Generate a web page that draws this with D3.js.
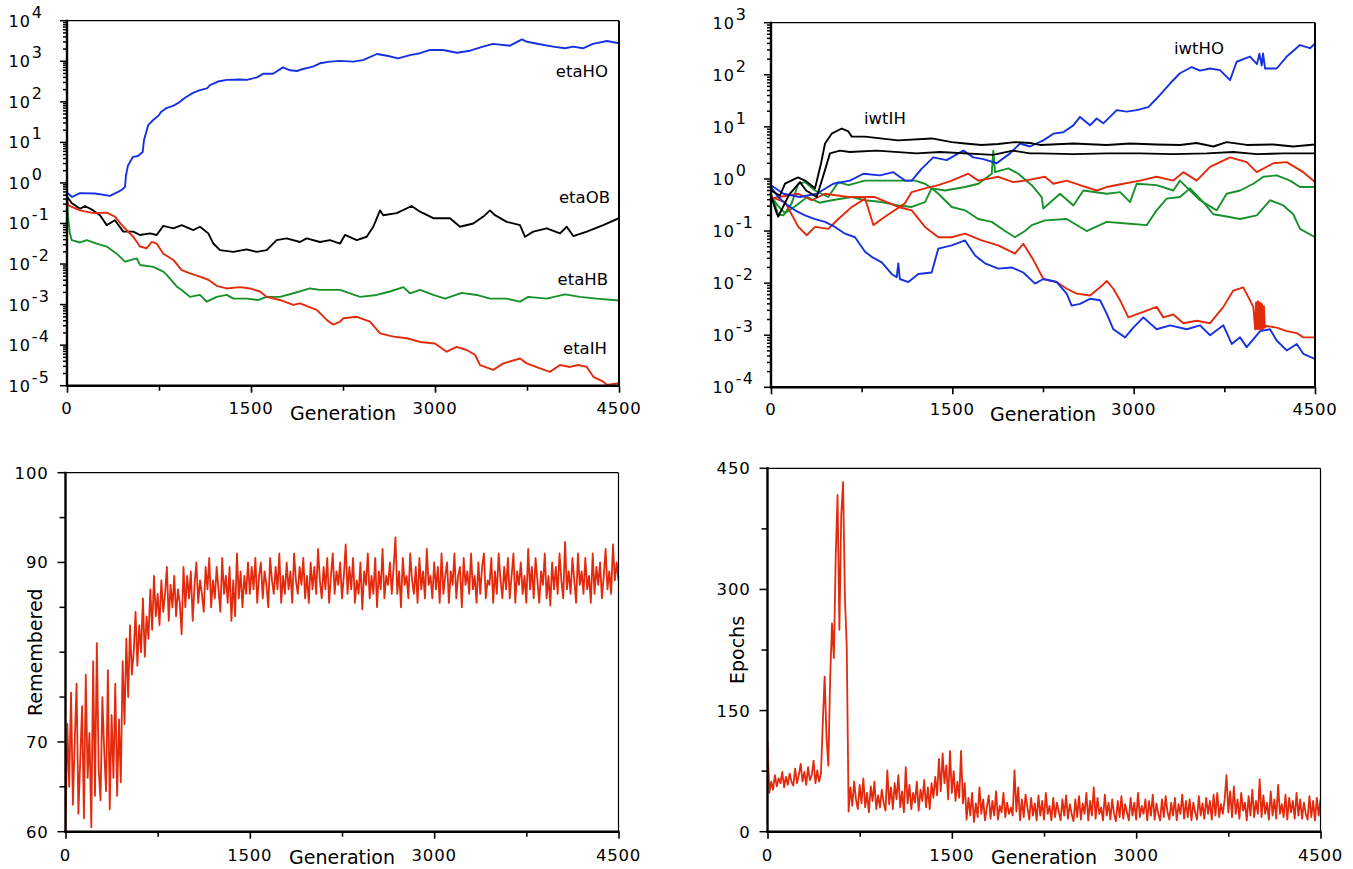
<!DOCTYPE html>
<html>
<head>
<meta charset="utf-8">
<script src="https://cdn.jsdelivr.net/npm/d3@7"></script>
<style>
body { margin: 0; background: #fff; }
svg { display: block; font-family: "DejaVu Sans", Verdana, sans-serif; }
</style>
</head>
<body>
<svg id="chart" width="1353" height="869"></svg>
<script>
// ---- data: [generation, value] ----
var etaHO = [[0,0.58],[41,0.45],[106,0.56],[228,0.55],[350,0.48],[416,0.6],[448,0.68],[473,0.8],[481,1.55],[497,2.7],[538,4.4],[579,4.6],[617,5.8],[628,11.5],[644,17],[663,27],[701,35],[750,47],[766,56],[815,71],[864,79],[921,100],[962,126],[1027,166],[1084,195],[1141,215],[1166,257],[1231,316],[1304,347],[1410,355],[1467,347],[1549,400],[1598,490],[1679,490],[1761,708],[1818,600],[1875,575],[1924,645],[2005,740],[2062,890],[2144,980],[2226,1020],[2331,980],[2413,1070],[2527,1510],[2609,1370],[2699,1180],[2796,1420],[2878,1580],[2960,1900],[3065,1900],[3179,1620],[3285,1820],[3391,2290],[3473,2690],[3611,2420],[3709,3470],[3750,3020],[3856,2630],[3962,2290],[4060,2090],[4125,2290],[4206,2090],[4288,2690],[4402,3160],[4500,2780]];
var etaOB = [[0,0.46],[38,0.32],[106,0.23],[147,0.27],[214,0.21],[269,0.16],[324,0.091],[391,0.12],[459,0.063],[540,0.063],[595,0.052],[677,0.057],[731,0.052],[785,0.087],[867,0.076],[935,0.091],[1030,0.069],[1084,0.083],[1152,0.057],[1193,0.032],[1247,0.022],[1356,0.02],[1465,0.023],[1546,0.02],[1628,0.022],[1709,0.039],[1791,0.043],[1899,0.035],[1954,0.043],[2062,0.035],[2144,0.039],[2226,0.032],[2266,0.052],[2362,0.039],[2443,0.047],[2497,0.083],[2552,0.21],[2578,0.16],[2688,0.18],[2810,0.27],[2878,0.195],[2986,0.135],[3122,0.135],[3204,0.083],[3312,0.1],[3394,0.148],[3448,0.21],[3489,0.16],[3585,0.11],[3693,0.091],[3734,0.047],[3801,0.063],[3911,0.076],[4019,0.057],[4074,0.083],[4127,0.049],[4237,0.063],[4372,0.091],[4500,0.135]];
var etaHB = [[0,0.35],[11,0.12],[24,0.057],[38,0.039],[106,0.034],[161,0.039],[242,0.032],[324,0.027],[405,0.018],[473,0.0115],[568,0.0138],[595,0.0095],[704,0.0085],[785,0.0065],[813,0.0054],[894,0.0028],[935,0.0023],[1003,0.00155],[1084,0.00173],[1139,0.00118],[1220,0.00155],[1302,0.00173],[1356,0.0014],[1465,0.0014],[1560,0.0013],[1628,0.00155],[1736,0.00155],[1845,0.0019],[1981,0.0025],[2062,0.0023],[2226,0.0023],[2307,0.0019],[2389,0.00155],[2525,0.00173],[2633,0.0021],[2742,0.0027],[2796,0.0019],[2878,0.0023],[2986,0.00173],[3082,0.0014],[3218,0.00195],[3340,0.00173],[3448,0.0014],[3585,0.0014],[3693,0.00118],[3761,0.00155],[3911,0.0014],[4060,0.00178],[4182,0.00155],[4318,0.0014],[4500,0.00126]];
var etaIH = [[0,0.38],[11,0.28],[106,0.21],[214,0.18],[324,0.185],[391,0.148],[459,0.083],[540,0.047],[595,0.027],[650,0.0245],[690,0.035],[731,0.032],[785,0.018],[867,0.0126],[935,0.0071],[1003,0.0059],[1084,0.0049],[1152,0.0041],[1220,0.0029],[1302,0.0025],[1410,0.0027],[1492,0.0025],[1573,0.0021],[1628,0.00155],[1736,0.0013],[1845,0.00098],[1899,0.00107],[2036,0.00074],[2117,0.00042],[2171,0.00032],[2226,0.00038],[2253,0.00046],[2362,0.0005],[2470,0.00038],[2552,0.000195],[2660,0.000162],[2769,0.000148],[2878,0.00012],[3000,0.00011],[3095,0.000069],[3177,0.000091],[3258,0.000076],[3326,0.000058],[3367,0.000032],[3475,0.0000245],[3557,0.0000355],[3693,0.0000468],[3748,0.0000355],[3856,0.0000269],[3937,0.0000219],[4019,0.0000324],[4100,0.000029],[4168,0.0000324],[4237,0.000029],[4291,0.0000166],[4372,0.0000126],[4400,0.0000105],[4500,0.0000115]];

var iwtIHa = [[0,0.6],[74,0.48],[116,0.81],[223,1.07],[281,0.93],[364,0.66],[414,2.0],[447,4.8],[502,7.4],[585,9.3],[637,8.3],[668,6.5],[778,6.5],[1050,5.5],[1329,6.0],[1495,5.1],[1605,4.8],[1743,4.5],[1878,4.7],[2018,5.1],[2142,4.9],[2225,4.5],[2501,4.8],[2777,4.5],[2970,4.8],[3190,4.6],[3383,4.5],[3521,4.9],[3659,4.2],[3769,5.1],[3935,4.5],[4155,4.6],[4320,4.2],[4500,4.6]];
var iwtIHb = [[0,0.48],[47,0.22],[60,0.19],[150,0.5],[240,0.87],[290,0.6],[378,0.45],[430,1.1],[488,3.1],[571,3.5],[653,3.3],[874,3.5],[1205,3.1],[1398,3.3],[1836,2.9],[2002,3.5],[2142,3.1],[2225,3.1],[2501,3.0],[2777,3.1],[3052,3.1],[3328,3.0],[3604,3.1],[3824,3.3],[4018,3.0],[4238,3.1],[4500,3.1]];
var iwtHOa = [[0,0.76],[102,0.52],[240,0.45],[378,0.52],[515,0.81],[653,0.93],[764,1.26],[902,1.17],[1012,1.35],[1108,0.93],[1164,0.93],[1247,1.58],[1343,2.6],[1453,2.3],[1591,3.5],[1674,2.6],[1756,2.4],[1867,2.0],[1977,3.1],[2060,4.8],[2142,4.2],[2253,5.5],[2336,7.4],[2418,7.9],[2501,10.7],[2556,15.5],[2639,10.7],[2694,14.5],[2749,11.7],[2860,21],[2942,19.6],[3025,21],[3121,24],[3190,35],[3301,68],[3383,107],[3480,141],[3549,120],[3632,132],[3714,123],[3797,79],[3852,178],[3962,224],[4020,160],[4040,255],[4059,150],[4070,257],[4087,132],[4183,132],[4266,224],[4376,372],[4459,324],[4500,398]];
var iwtHOb = [[0,0.7],[60,0.45],[116,0.34],[199,0.25],[281,0.2],[364,0.17],[447,0.15],[529,0.12],[612,0.089],[695,0.076],[778,0.04],[833,0.032],[916,0.025],[998,0.015],[1040,0.013],[1053,0.024],[1066,0.012],[1136,0.0105],[1219,0.015],[1329,0.016],[1384,0.046],[1495,0.053],[1605,0.066],[1688,0.034],[1770,0.024],[1880,0.019],[1991,0.02],[2087,0.016],[2184,0.0098],[2253,0.012],[2363,0.0105],[2446,0.0063],[2487,0.0037],[2556,0.004],[2639,0.005],[2722,0.0047],[2777,0.0026],[2832,0.0013],[2929,0.00091],[2997,0.0014],[3080,0.0022],[3190,0.0013],[3301,0.00155],[3439,0.0013],[3549,0.00155],[3632,0.001],[3742,0.00155],[3811,0.00068],[3880,0.00091],[3935,0.00059],[4046,0.0012],[4128,0.0013],[4183,0.00079],[4266,0.00051],[4349,0.00068],[4403,0.00044],[4500,0.00035]];
var iwtRedA = [[0,0.45],[116,0.36],[226,0.12],[295,0.083],[364,0.12],[474,0.11],[557,0.17],[668,0.29],[778,0.42],[819,0.21],[847,0.13],[916,0.17],[998,0.23],[1108,0.34],[1164,0.56],[1274,0.66],[1384,0.76],[1495,0.93],[1632,1.26],[1715,0.93],[1880,1.1],[2004,0.87],[2101,0.93],[2267,1.1],[2335,0.81],[2446,0.93],[2556,0.76],[2694,0.6],[2777,0.7],[2914,0.81],[3052,0.93],[3190,1.1],[3328,0.93],[3411,1.35],[3521,0.93],[3632,1.7],[3797,2.6],[3935,2.1],[4018,1.35],[4155,2.0],[4266,2.1],[4403,1.35],[4500,0.87]];
var iwtRedB = [[0,0.42],[116,0.47],[226,0.52],[337,0.39],[447,0.52],[640,0.45],[860,0.45],[1053,0.29],[1164,0.25],[1274,0.12],[1384,0.076],[1495,0.076],[1605,0.089],[1743,0.066],[1880,0.053],[2018,0.037],[2087,0.057],[2170,0.028],[2253,0.012],[2363,0.0105],[2446,0.0078],[2529,0.0063],[2639,0.0058],[2722,0.0083],[2777,0.011],[2832,0.0078],[2887,0.0047],[2956,0.0022],[3080,0.0028],[3190,0.0035],[3245,0.0022],[3328,0.0025],[3411,0.0017],[3521,0.0019],[3632,0.0017],[3742,0.0035],[3824,0.0072],[3907,0.0083],[3990,0.0035],[4005,0.0013],[4013,0.0043],[4021,0.0013],[4029,0.0045],[4037,0.0013],[4045,0.0042],[4053,0.0013],[4061,0.0040],[4069,0.0013],[4077,0.0036],[4085,0.0014],[4100,0.0015],[4183,0.0014],[4266,0.0012],[4349,0.0011],[4403,0.00091],[4500,0.00091]];
var iwtGreenA = [[0,0.52],[60,0.21],[102,0.2],[171,0.34],[226,0.81],[281,0.87],[364,0.6],[474,0.45],[557,0.87],[640,0.76],[778,0.93],[998,0.93],[1191,0.93],[1274,0.81],[1329,0.66],[1384,0.52],[1495,0.29],[1605,0.25],[1715,0.17],[1826,0.15],[1936,0.1],[2018,0.076],[2101,0.1],[2157,0.13],[2267,0.16],[2446,0.17],[2611,0.1],[2777,0.15],[2942,0.14],[3108,0.13],[3190,0.25],[3273,0.42],[3383,0.45],[3466,0.66],[3576,0.36],[3659,0.21],[3769,0.19],[3880,0.17],[4018,0.2],[4128,0.39],[4238,0.31],[4320,0.21],[4376,0.11],[4500,0.076]];
var iwtGreenB = [[0,0.47],[60,0.3],[116,0.22],[200,0.3],[300,0.45],[400,0.35],[502,0.39],[668,0.45],[778,0.39],[916,0.36],[1053,0.31],[1164,0.29],[1274,0.36],[1329,0.66],[1439,0.6],[1605,0.7],[1715,0.81],[1826,1.26],[1839,3.5],[1853,1.35],[1963,1.6],[2046,1.26],[2157,0.76],[2239,0.45],[2253,0.27],[2391,0.52],[2501,0.31],[2584,0.6],[2777,0.52],[2887,0.56],[2970,0.36],[3025,0.81],[3190,0.76],[3328,0.6],[3383,0.93],[3466,0.6],[3549,0.39],[3687,0.25],[3769,0.52],[3880,0.6],[3990,0.81],[4073,1.1],[4183,1.17],[4294,0.93],[4376,0.7],[4500,0.7]];

// bottom panels: one value every 15 generations, 0..4500
var sampleStep = 15;
var remembered = [
  // 0 - 450
  60,72,65,75.5,63,70,76.5,62,68,74,61.5,77.5,66,71,60.5,79,64,81,67,63.5,75,69,64.5,78,62.5,73,66,76.5,64,72.5,65.5,
  // 465 - 960
  79,72,81.5,75,83,77.5,80,84.5,78.5,83,80,86,79.5,84,81.5,87,82.5,88.5,84,86.5,83,88,84.5,86.5,89.5,83.5,87.5,85,88.5,84,87,85.5,82,89.5,
  // 975 - 1485
  85,88.5,86,89,83.5,87.5,90,85.5,88,86.5,84.5,89.5,87,90.5,85,88,86,89.5,87,84.5,90.5,86.5,88.5,85.5,89.5,83.5,88,84,91,86,89,85,88.5,86.5,90,
  // 1500 - 4500
  86.5,89.5,87,90.5,85.5,88.5,90,86,89,87.5,85,90.5,88,86.5,89.5,87,91,85.5,88.5,86.5,
  90,87,89,85.5,91,88,86.5,89.5,87.5,90.5,86,88.5,85.5,90,87,89.5,86.5,91.5,88,86,
  89.5,87,90.5,85.5,88.5,91,86.5,89,87.5,90,86,88.5,92,86.5,89.5,87,90.5,85.5,88,86.5,
  90,84.8,89,87.5,91,86,88.5,86.5,90.5,85,89,87,91.5,86,88.5,87.5,90,86.5,89.5,92.8,
  86.5,89,85,90.5,87.5,88.5,86,91,88,86.5,89.5,85.5,90.5,87,89,86,91.5,87.5,88.5,86,
  90,87,89.5,85.5,91,86.5,88.5,90,85.5,89,87.5,91,86,88.5,89.5,85,90.5,87.5,89,86.5,
  91,87,88.5,85.5,90,86.5,89.5,91,86,88,87.5,90.5,85.5,89,86.5,91,88,86,89.5,87,
  90.5,86,88.5,91,85.5,89,87.5,90,86.5,88.5,85.5,91.5,87,89.5,86,90.5,88,85.5,89,87.5,
  91,86,88.5,85.2,90,87,89.5,86.5,91,88,86,92.3,87,89,86.5,90.5,88,85.5,91,87.5,
  89,86.5,90.5,87,88.5,85.5,91,86.5,89.5,87.5,90,86,88.5,91.5,87,89,86.5,92,88,90,
  88
];
var epochs = [
  // 0 - 435
  111,48,62,52,70,56,66,60,74,55,68,58,72,62,57,78,60,70,84,62,74,58,80,64,70,88,60,76,62,72,
  // 450 - 645 (peak)
  135,192,118,82,190,258,215,340,417,250,392,433,290,227,
  // 660 - 1365
  25,55,32,62,40,28,58,35,66,30,48,24,56,38,62,28,45,30,52,36,
  26,76,34,55,28,60,40,70,30,50,24,80,35,58,28,48,36,62,26,52,
  38,64,30,55,28,60,42,68,
  // 1380 - 1605
  45,90,50,97,60,82,40,100,48,75,38,62,42,100,35,60,
  // 1620 - 4500
  15,42,20,48,12,35,18,55,22,40,14,30,45,16,38,20,50,15,32,24,
  48,18,36,22,30,20,76,25,55,14,40,18,46,30,15,42,20,35,14,45,
  20,38,15,48,22,32,14,42,18,36,25,14,40,20,45,16,34,22,13,40,
  18,44,15,35,22,48,14,38,20,55,16,42,22,30,14,46,20,36,15,40,
  22,13,38,18,44,16,34,24,14,42,20,36,15,48,18,32,22,40,14,38,
  20,46,15,35,22,14,40,18,44,24,15,36,20,42,14,34,22,46,16,38,
  18,40,14,36,24,15,44,20,35,16,42,22,38,15,46,20,48,18,34,22,
  40,70,24,50,18,56,22,40,16,48,26,36,14,44,20,52,18,38,22,65,
  18,45,22,36,15,50,20,40,16,58,22,34,18,46,15,42,24,38,16,48,
  20,40,16,36,22,15,44,18,38,14,42,20,40
];

var genMajor = [0, 1500, 3000, 4500];
var genMinor = [750, 2250, 3750];
var rememberedTicks = [60, 65, 70, 75, 80, 85, 90, 95, 100];
var rememberedLabels = [60, 70, 90, 100];
var epochTicks = [0, 75, 150, 225, 300, 375, 450];
var epochLabels = [0, 150, 300, 450];

var BLUE = "#1531e0", RED = "#e42a0c", GREEN = "#17912a", BLACK = "#000";

var svg = d3.select("#chart");

function drawPanel(p) {
    var g = svg.append("g").attr("transform", "translate(" + p.left + "," + p.top + ")");
    var x = d3.scaleLinear().domain([0, 4500]).range([0, p.width]);
    var y = (p.log ? d3.scaleLog() : d3.scaleLinear()).domain(p.domain).range([p.height, 0]);

    g.append("clipPath").attr("id", "clip" + p.id)
        .append("rect").attr("width", p.width).attr("height", p.height);

    var line = d3.line().x(function(d) { return x(d[0]); }).y(function(d) { return y(d[1]); });
    var plot = g.append("g").attr("clip-path", "url(#clip" + p.id + ")");
    p.series.forEach(function(s) {
        plot.append("path")
            .attr("d", line(s.data))
            .attr("fill", "none")
            .attr("stroke", s.color)
            .attr("stroke-width", s.width)
            .attr("stroke-linejoin", "round");
    });

    // x ticks (outward)
    var xt = g.append("g").attr("transform", "translate(0," + p.height + ")");
    xt.call(d3.axisBottom(x).tickValues(genMajor).tickSize(7).tickFormat(""));
    xt.append("g").call(d3.axisBottom(x).tickValues(genMinor).tickSize(5).tickFormat(""));
    xt.selectAll(".domain").remove();
    xt.selectAll("line").attr("stroke", "#000").attr("stroke-width", 1.6);

    genMajor.forEach(function(v) {
        g.append("text").attr("x", x(v)).attr("y", p.height + p.labelDy)
            .attr("text-anchor", "middle").attr("font-size", 16.5).attr("letter-spacing", 0.8)
            .text(v);
    });
    g.append("text").attr("x", p.width / 2).attr("y", p.height + p.titleDy)
        .attr("text-anchor", "middle").attr("font-size", 19).text("Generation");

    // y ticks (outward)
    var yt = g.append("g");
    if (p.log) {
        y.ticks().forEach(function(v) {
            var e = Math.log10(v), major = Math.abs(e - Math.round(e)) < 1e-6;
            yt.append("line").attr("x1", major ? -7 : -4).attr("x2", 0)
                .attr("y1", y(v)).attr("y2", y(v))
                .attr("stroke", "#000").attr("stroke-width", 1.5);
            if (major) {
                var t = yt.append("text").attr("x", -58.5).attr("y", y(v) + 6)
                    .attr("font-size", 16).attr("letter-spacing", 1);
                t.append("tspan").text("10");
                t.append("tspan").attr("dx", 1).attr("dy", -9).text(String(Math.round(e)));
            }
        });
    } else {
        p.yTicks.forEach(function(v) {
            var lab = p.yLabels.indexOf(v) >= 0;
            yt.append("line").attr("x1", lab ? -8 : -6).attr("x2", 0)
                .attr("y1", y(v)).attr("y2", y(v))
                .attr("stroke", "#000").attr("stroke-width", 1.5);
        });
        p.yLabels.forEach(function(v) {
            yt.append("text").attr("x", -17).attr("y", y(v) + 6)
                .attr("text-anchor", "end").attr("font-size", 16.5).attr("letter-spacing", 0.8)
                .text(v);
        });
        g.append("text")
            .attr("transform", "translate(" + p.yTitleX + "," + (p.height / 2) + ") rotate(-90)")
            .attr("text-anchor", "middle").attr("font-size", 19).text(p.yTitle);
    }

    // frame: heavy left/bottom, light top, medium right
    g.append("line").attr("x1", 0).attr("x2", p.width).attr("y1", 0).attr("y2", 0)
        .attr("stroke", "#000").attr("stroke-width", 1.2);
    g.append("line").attr("x1", p.width).attr("x2", p.width).attr("y1", 0).attr("y2", p.height)
        .attr("stroke", "#000").attr("stroke-width", p.rightW);
    g.append("line").attr("x1", 0).attr("x2", 0).attr("y1", -1).attr("y2", p.height + 1)
        .attr("stroke", "#000").attr("stroke-width", 2.4);
    g.append("line").attr("x1", -1).attr("x2", p.width + 1).attr("y1", p.height).attr("y2", p.height)
        .attr("stroke", "#000").attr("stroke-width", 2.4);

    (p.notes || []).forEach(function(n) {
        svg.append("text").attr("x", n.x).attr("y", n.y).attr("text-anchor", n.anchor)
            .attr("font-size", 16.5).text(n.text);
    });
}

function sampled(values) {
    return values.map(function(v, i) { return [i * sampleStep, v]; });
}

drawPanel({
    id: 1, left: 67, top: 20.7, width: 552, height: 365, log: true, domain: [1e-5, 1e4],
    labelDy: 28, titleDy: 34, rightW: 2,
    series: [
        { data: etaHO, color: BLUE, width: 1.9 },
        { data: etaOB, color: BLACK, width: 1.9 },
        { data: etaHB, color: GREEN, width: 1.9 },
        { data: etaIH, color: RED, width: 1.9 }
    ],
    notes: [
        { text: "etaHO", x: 608, y: 77, anchor: "end" },
        { text: "etaOB", x: 610, y: 203, anchor: "end" },
        { text: "etaHB", x: 608, y: 285, anchor: "end" },
        { text: "etaIH", x: 607, y: 354, anchor: "end" }
    ]
});

drawPanel({
    id: 2, left: 771, top: 22.7, width: 544, height: 364.6, log: true, domain: [1e-4, 1e3],
    labelDy: 28, titleDy: 34, rightW: 2,
    series: [
        { data: iwtGreenA, color: GREEN, width: 1.9 },
        { data: iwtGreenB, color: GREEN, width: 1.9 },
        { data: iwtRedA, color: RED, width: 1.9 },
        { data: iwtRedB, color: RED, width: 1.9 },
        { data: iwtHOb, color: BLUE, width: 1.9 },
        { data: iwtHOa, color: BLUE, width: 1.9 },
        { data: iwtIHb, color: BLACK, width: 1.9 },
        { data: iwtIHa, color: BLACK, width: 1.9 }
    ],
    notes: [
        { text: "iwtIH", x: 864, y: 124, anchor: "start" },
        { text: "iwtHO", x: 1174, y: 54, anchor: "start" }
    ]
});

drawPanel({
    id: 3, left: 65.5, top: 472.7, width: 553, height: 359, log: false, domain: [60, 100],
    labelDy: 29, titleDy: 32.5, rightW: 1.2,
    yTicks: rememberedTicks, yLabels: rememberedLabels, yTitle: "Remembered", yTitleX: -24,
    series: [
        { data: sampled(remembered), color: RED, width: 1.8 }
    ]
});

drawPanel({
    id: 4, left: 767.5, top: 468.3, width: 553, height: 363.4, log: false, domain: [0, 450],
    labelDy: 29, titleDy: 32.5, rightW: 1.2,
    yTicks: epochTicks, yLabels: epochLabels, yTitle: "Epochs", yTitleX: -24,
    series: [
        { data: sampled(epochs), color: RED, width: 1.8 }
    ]
});
</script>
</body>
</html>
